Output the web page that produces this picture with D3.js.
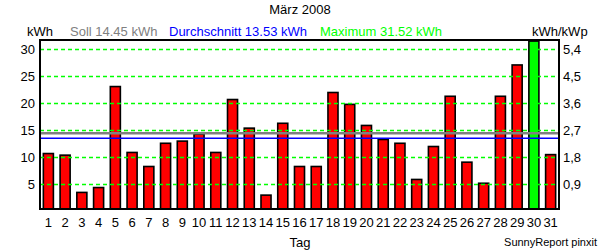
<!DOCTYPE html>
<html>
<head>
<meta charset="utf-8">
<script src="https://cdn.jsdelivr.net/npm/d3@7"></script>
<style>
  html, body { margin: 0; padding: 0; background: #fff; }
  svg { display: block; font-family: "Liberation Sans", Arial, sans-serif; }
</style>
</head>
<body>
<svg id="chart" width="600" height="250"></svg>
<script>
const days = d3.range(1, 32).map(String);
const energy = [10.7, 10.4, 3.5, 4.4, 23.1, 10.9, 8.3, 12.6, 13.0, 14.3, 10.9, 20.7, 15.4, 3.0, 16.3, 8.3,
                8.3, 22.0, 19.8, 15.9, 13.3, 12.6, 5.9, 12.0, 21.3, 9.1, 5.2, 21.3, 27.1, 31.52, 10.5];
const leftTicks = [5, 10, 15, 20, 25, 30];
const rightTicks = [0.9, 1.8, 2.7, 3.6, 4.5, 5.4];
const soll = 14.45;
const average = 13.53;
const maximum = 31.52;
const kWp = 5.5556;
const title = "März 2008";

const svg = d3.select("#chart");
const L = 40, R = 559, T = 40, B = 209;
const yMin = 0.43, yMax = 31.72;

const x = d3.scaleBand().domain(days).range([L, R]).paddingInner(0.4).paddingOuter(0.2);
const y = d3.scaleLinear().domain([yMin, yMax]).range([B, T]);
const y2 = d3.scaleLinear().domain([yMin / kWp, yMax / kWp]).range([B, T]);

// bars
svg.append("g").selectAll("rect").data(energy).join("rect")
  .attr("x", (d, i) => x(days[i]))
  .attr("width", x.bandwidth())
  .attr("y", d => y(d))
  .attr("height", d => y(yMin) - y(d))
  .attr("fill", d => d === maximum ? "#00ff00" : "#ff0000")
  .attr("stroke", "#000")
  .attr("stroke-width", 1.6);

// gridlines
svg.append("g").selectAll("line").data(leftTicks).join("line")
  .attr("x1", L).attr("x2", R)
  .attr("y1", d => Math.round(y(d)) + 0.5).attr("y2", d => Math.round(y(d)) + 0.5)
  .attr("stroke", "#00ff00").attr("stroke-width", 1.3)
  .attr("stroke-dasharray", "4,3");

// soll and average lines
svg.append("line").attr("x1", L).attr("x2", R).attr("y1", y(soll)).attr("y2", y(soll))
  .attr("stroke", "#808080").attr("stroke-width", 2.5);
svg.append("line").attr("x1", L).attr("x2", R).attr("y1", y(average)).attr("y2", y(average))
  .attr("stroke", "#0000ff").attr("stroke-width", 1.5);

// frame
svg.append("rect").attr("x", L).attr("y", T).attr("width", R - L).attr("height", B - T)
  .attr("fill", "none").attr("stroke", "#000").attr("stroke-width", 2);

// left axis
const leftAxis = svg.append("g").attr("transform", `translate(${L},0)`)
  .call(d3.axisLeft(y).tickValues(leftTicks).tickSize(0).tickPadding(5));
leftAxis.select(".domain").remove();
leftAxis.selectAll("text").attr("font-size", 13).attr("fill", "#000")
  .attr("font-family", "Liberation Sans, Arial, sans-serif");

// right axis
const rightAxis = svg.append("g").attr("transform", `translate(${R},0)`)
  .call(d3.axisRight(y2).tickValues(rightTicks).tickSize(0).tickPadding(4)
    .tickFormat(d => d3.format(".1f")(d).replace(".", ",")));
rightAxis.select(".domain").remove();
rightAxis.selectAll("text").attr("font-size", 13).attr("fill", "#000")
  .attr("font-family", "Liberation Sans, Arial, sans-serif");

// bottom axis
const bottomAxis = svg.append("g").attr("transform", `translate(0,${B})`)
  .call(d3.axisBottom(x).tickSize(0).tickPadding(9));
bottomAxis.select(".domain").remove();
bottomAxis.selectAll("text").attr("font-size", 13).attr("fill", "#000")
  .attr("font-family", "Liberation Sans, Arial, sans-serif");

// texts
const txt = (s, xx, yy, opts = {}) => svg.append("text").text(s)
  .attr("x", xx).attr("y", yy)
  .attr("font-size", opts.size || 13)
  .attr("fill", opts.color || "#000")
  .attr("text-anchor", opts.anchor || "start");

txt(title, 300, 14, { anchor: "middle" });
txt("kWh", 27, 36);
txt("Soll " + soll.toFixed(2) + " kWh", 70, 36, { color: "#808080" });
txt("Durchschnitt " + average.toFixed(2) + " kWh", 169, 36, { color: "#0000ff" });
txt("Maximum " + maximum.toFixed(2) + " kWh", 320, 36, { color: "#00ff00" });
txt("kWh/kWp", 532, 36);
txt("Tag", 300, 247, { anchor: "middle" });
txt("SunnyReport pinxit", 597, 246, { anchor: "end", size: 11 });
</script>
</body>
</html>
